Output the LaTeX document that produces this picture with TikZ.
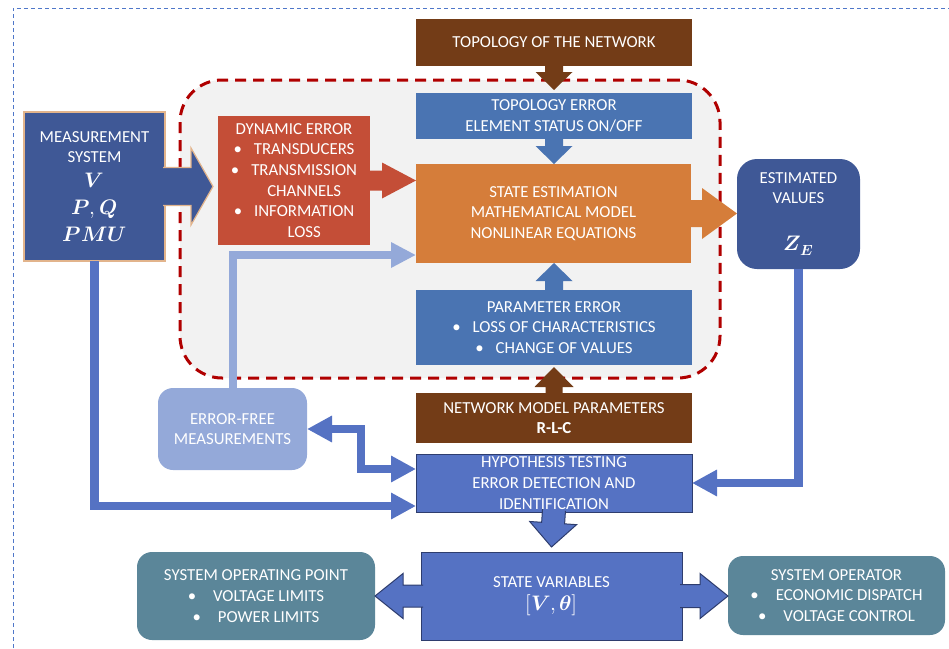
\documentclass[tikz,border=0pt]{standalone}
\usepackage{fontspec}
\usepackage{unicode-math}
\setmainfont{Carlito}
\setmathfont{Latin Modern Math}
\usetikzlibrary{calc,arrows.meta}
\definecolor{msblue}{HTML}{3F5896}
\definecolor{tanb}{HTML}{E2B48C}
\definecolor{dynred}{HTML}{C44E37}
\definecolor{brownb}{HTML}{733C17}
\definecolor{teblue}{HTML}{4A74B2}
\definecolor{orangeb}{HTML}{D57D3A}
\definecolor{lightb}{HTML}{94A9D9}
\definecolor{hblue}{HTML}{5572C3}
\definecolor{navyb}{HTML}{2E3D6E}
\definecolor{tealb}{HTML}{5B8699}
\definecolor{regfill}{HTML}{F2F2F2}
\definecolor{regred}{HTML}{B00000}
\definecolor{outerb}{HTML}{4F77C9}
\newcommand\fs{\fontsize{16.8pt}{20.6pt}\selectfont}
\newcommand\fm{\fontsize{21pt}{27pt}\selectfont}
\newcommand\bul{\textbullet\hspace{12pt}}
\newcommand\nobul{\phantom{\textbullet}\hspace{12pt}}
\newcommand\bulb{\textbullet\hspace{17pt}}
% block arrow: #1 style, #2 tail, #3 tip, #4 shaft half width, #5 head half width, #6 head length
\newcommand\blkarrow[6]{%
  \coordinate (bkH) at ($(#3)!#6!(#2)$);
  \path[#1] ($(#2)!#4!90:(#3)$) -- ($(bkH)!#4!90:(#3)$) -- ($(bkH)!#5!90:(#3)$) -- (#3)
    -- ($(bkH)!#5!-90:(#3)$) -- ($(bkH)!#4!-90:(#3)$) -- ($(#2)!#4!-90:(#3)$);
}
\begin{document}
\begin{tikzpicture}[x=1pt,y=-1pt,line join=miter,
  box/.style={inner sep=0pt, outer sep=0pt, align=center, text=white, font=\fs},
  conn/.style={draw=hblue, line width=8.5pt, -{Triangle[width=25pt,length=25pt]}},
  lconn/.style={draw=lightb, line width=8pt, -{Triangle[width=24pt,length=25pt]}},
  outerline/.style={draw=outerb, line width=0.9pt, dash pattern=on 4pt off 3pt}]
\useasboundingbox (0,0) rectangle (949,648);
% outer dashed frame
\draw[outerline] (13,648) -- (13,8) -- (949,8);
% dashed region
\node[draw=regred, fill=regfill, line width=3pt, dash pattern=on 11pt off 7pt,
  rounded corners=42pt, minimum width=540pt, minimum height=298pt, inner sep=0pt] (reg) at (450,229) {};
% boxes
\node[box, fill=msblue, draw=tanb, line width=1.2pt, minimum width=141pt, minimum height=149pt] (ms) at (94.5,186.5)
  {MEASUREMENT\\SYSTEM\\[4pt]{\fm$\symbfit{V}$}\\[7pt]{\fm$\symbfit{P},\symbfit{Q}$}\\[6pt]{\fm$\symbfit{PMU}$}};
\node[box, fill=dynred, minimum width=152pt, minimum height=129pt] (dyn) at (294,180.5)
  {DYNAMIC ERROR\\\bul TRANSDUCERS\\\bul TRANSMISSION\\\nobul CHANNELS\\\bul INFORMATION\\\nobul LOSS};
\node[box, fill=brownb, minimum width=276pt, minimum height=47pt] (top) at (554,42.5) {TOPOLOGY OF THE NETWORK};
\node[box, fill=teblue, minimum width=276pt, minimum height=46pt] (te) at (554,116) {TOPOLOGY ERROR\\ELEMENT STATUS ON/OFF};
\node[box, fill=orangeb, minimum width=275pt, minimum height=99pt] (se) at (553.5,213.5)
  {STATE ESTIMATION\\MATHEMATICAL MODEL\\NONLINEAR EQUATIONS};
\node[box, fill=msblue, rounded corners=20pt, minimum width=123pt, minimum height=110pt] (ev) at (798.5,214)
  {ESTIMATED\\VALUES\\[26pt]{\fm$\symbfit{Z}_{\symbfit{E}}$}};
\node[box, fill=teblue, minimum width=276pt, minimum height=75pt] (pe) at (554,327.5)
  {PARAMETER ERROR\\\bul LOSS OF CHARACTERISTICS\\\bul CHANGE OF VALUES};
\node[box, fill=brownb, minimum width=276pt, minimum height=50pt] (nm) at (554,418)
  {NETWORK MODEL PARAMETERS\\\textbf{R-L-C}};
\node[box, fill=hblue, draw=navyb, line width=1pt, minimum width=276pt, minimum height=58pt] (ht) at (554,483)
  {HYPOTHESIS TESTING\\ERROR DETECTION AND\\IDENTIFICATION};
\node[box, fill=lightb, rounded corners=15pt, minimum width=149pt, minimum height=82pt] (ef) at (232.5,429)
  {ERROR-FREE\\MEASUREMENTS};
\node[box, fill=hblue, draw=navyb, line width=1pt, minimum width=261pt, minimum height=88pt] (sv) at (551.5,596)
  {STATE VARIABLES\\[2pt]{\fm$[\symbfit{V},\symbfit{\theta}]$}};
\node[box, fill=tealb, rounded corners=15pt, minimum width=238pt, minimum height=88pt] (sop) at (256,596)
  {SYSTEM OPERATING POINT\\\bulb VOLTAGE LIMITS\\\bulb POWER LIMITS};
\node[box, fill=tealb, rounded corners=15pt, minimum width=217pt, minimum height=79pt] (so) at (836.5,595.5)
  {SYSTEM OPERATOR\\\bulb ECONOMIC DISPATCH\\\bulb VOLTAGE CONTROL};
% helper coordinates
\coordinate (msTail) at ($(ms.east)+(-2,0)$);
\coordinate (msTip) at ($(dyn.west |- ms.east)+(-5,0)$);
\coordinate (dynTip) at (se.west |- dyn.east);
\coordinate (topTip) at ($(te.north)+(0,-3)$);
\coordinate (teTip) at (te.south |- se.north);
\coordinate (peTip) at (pe.north |- se.south);
\coordinate (nmTip) at ($(pe.south)+(0,2)$);
\coordinate (evTip) at (ev.west |- se.east);
\coordinate (htTail) at ($(ht.south)+(0,-2)$);
\coordinate (htTip) at ($(sv.north)+(0,-5)$);
\coordinate (svLTail) at ($(sv.west)+(2,0)$);
\coordinate (svLTip) at (sop.east |- sv.west);
\coordinate (svRTail) at ($(sv.east)+(-2,0)$);
\coordinate (svRTip) at (so.west |- sv.east);
\coordinate (seIn) at ($(se.south west)+(0,-8)$);
\coordinate (htL) at ($(ht.west)+(0,-14)$);
\coordinate (efj) at ($(ht.west)+(-55,-14)$);
\coordinate (htM) at ($(ht.west)+(0,23)$);
% block arrows
\blkarrow{fill=msblue, draw=tanb, line width=1.2pt}{msTail}{msTip}{19pt}{38.5pt}{22pt}
\blkarrow{fill=dynred}{dyn.east}{dynTip}{10pt}{18pt}{34pt}
\blkarrow{fill=brownb}{top.south}{topTip}{9pt}{18.5pt}{18pt}
\blkarrow{fill=teblue}{te.south}{teTip}{9pt}{18.5pt}{18pt}
\blkarrow{fill=teblue}{pe.north}{peTip}{9pt}{18.5pt}{18pt}
\blkarrow{fill=brownb}{nm.north}{nmTip}{8.5pt}{19.5pt}{20pt}
\blkarrow{fill=orangeb}{se.east}{evTip}{13.5pt}{25.5pt}{35pt}
\blkarrow{fill=hblue, draw=navyb, line width=1pt}{htTail}{htTip}{11.5pt}{23.5pt}{24pt}
\blkarrow{fill=hblue, draw=navyb, line width=1pt}{svLTail}{svLTip}{11pt}{22.5pt}{28pt}
\blkarrow{fill=hblue, draw=navyb, line width=1pt}{svRTail}{svRTip}{11.5pt}{22.5pt}{28pt}
% line connectors
\draw[lconn] (ef.north) |- (seIn);
\draw[conn] (ev.south) |- (ht.east);
\draw[conn, {Triangle[width=25pt,length=25pt]}-{Triangle[width=25pt,length=25pt]}] (ef.east) -| (efj) -- (htL);
\draw[conn] (ms.south) |- (htM);
\end{tikzpicture}
\end{document}
